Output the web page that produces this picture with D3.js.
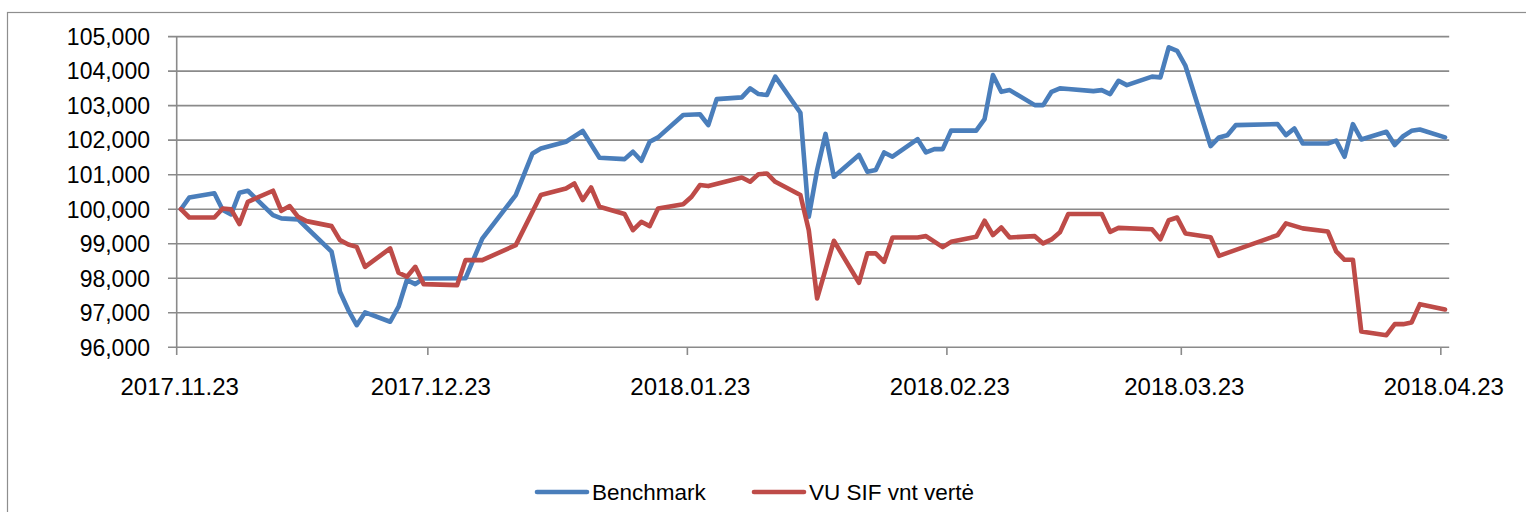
<!DOCTYPE html>
<html><head><meta charset="utf-8">
<script src="https://cdn.jsdelivr.net/npm/d3@7"></script>
<style>body{margin:0;background:#fff}svg{display:block}text{font-family:"Liberation Sans",Arial,sans-serif;fill:#000}</style>
</head><body><svg id="c" width="1526" height="512"></svg>
<script>
const benchmarkDates = ["2017-11-23","2017-11-24","2017-11-27","2017-11-28","2017-11-29","2017-11-30","2017-12-01","2017-12-04","2017-12-05","2017-12-07","2017-12-08","2017-12-11","2017-12-12","2017-12-13","2017-12-14","2017-12-15","2017-12-18","2017-12-19","2017-12-20","2017-12-21","2017-12-22","2017-12-27","2017-12-29","2018-01-02","2018-01-04","2018-01-05","2018-01-08","2018-01-10","2018-01-12","2018-01-15","2018-01-16","2018-01-17","2018-01-18","2018-01-19","2018-01-22","2018-01-24","2018-01-25","2018-01-26","2018-01-29","2018-01-30","2018-01-31","2018-02-01","2018-02-02","2018-02-05","2018-02-06","2018-02-07","2018-02-08","2018-02-09","2018-02-12","2018-02-13","2018-02-14","2018-02-15","2018-02-16","2018-02-19","2018-02-20","2018-02-21","2018-02-22","2018-02-23","2018-02-26","2018-02-27","2018-02-28","2018-03-01","2018-03-02","2018-03-05","2018-03-06","2018-03-07","2018-03-08","2018-03-09","2018-03-12","2018-03-13","2018-03-14","2018-03-15","2018-03-16","2018-03-19","2018-03-20","2018-03-21","2018-03-22","2018-03-23","2018-03-26","2018-03-27","2018-03-28","2018-03-29","2018-04-03","2018-04-04","2018-04-05","2018-04-06","2018-04-09","2018-04-10","2018-04-11","2018-04-12","2018-04-13","2018-04-16","2018-04-17","2018-04-18","2018-04-19","2018-04-20","2018-04-23"];
const benchmarkValues = [100000,100340,100460,99975,99850,100480,100535,99830,99735,99705,99470,98770,97610,97080,96640,97010,96740,97175,97950,97830,97995,98000,99150,100410,101615,101760,101955,102265,101490,101450,101665,101405,101955,102080,102730,102750,102435,103190,103240,103500,103335,103310,103840,102795,99780,101135,102180,100940,101570,101085,101135,101645,101520,102030,101645,101740,101740,102275,102275,102610,103885,103400,103450,103015,103015,103400,103500,103480,103420,103450,103335,103720,103595,103840,103820,104690,104590,104150,101830,102080,102145,102435,102465,102145,102340,101905,101905,101985,101520,102465,102020,102245,101860,102115,102270,102310,102080];

const fundDates = ["2017-11-23","2017-11-24","2017-11-27","2017-11-28","2017-11-29","2017-11-30","2017-12-01","2017-12-04","2017-12-05","2017-12-06","2017-12-07","2017-12-08","2017-12-11","2017-12-12","2017-12-13","2017-12-14","2017-12-15","2017-12-18","2017-12-19","2017-12-20","2017-12-21","2017-12-22","2017-12-26","2017-12-27","2017-12-29","2018-01-02","2018-01-05","2018-01-08","2018-01-09","2018-01-10","2018-01-11","2018-01-12","2018-01-15","2018-01-16","2018-01-17","2018-01-18","2018-01-19","2018-01-22","2018-01-23","2018-01-24","2018-01-25","2018-01-29","2018-01-30","2018-01-31","2018-02-01","2018-02-02","2018-02-05","2018-02-06","2018-02-07","2018-02-09","2018-02-12","2018-02-13","2018-02-14","2018-02-15","2018-02-16","2018-02-19","2018-02-20","2018-02-22","2018-02-23","2018-02-26","2018-02-27","2018-02-28","2018-03-01","2018-03-02","2018-03-05","2018-03-06","2018-03-07","2018-03-08","2018-03-09","2018-03-13","2018-03-14","2018-03-15","2018-03-19","2018-03-20","2018-03-21","2018-03-22","2018-03-23","2018-03-26","2018-03-27","2018-04-03","2018-04-04","2018-04-06","2018-04-09","2018-04-10","2018-04-11","2018-04-12","2018-04-13","2018-04-16","2018-04-17","2018-04-18","2018-04-19","2018-04-20","2018-04-23"];
const fundValues = [100000,99760,99760,100020,99995,99570,100215,100535,99955,100090,99780,99655,99510,99105,98980,98910,98330,98865,98160,98045,98330,97830,97800,98525,98525,98960,100410,100600,100745,100265,100630,100070,99860,99395,99635,99510,100020,100145,100360,100700,100670,100920,100795,101015,101035,100795,100410,99395,97415,99085,97870,98720,98720,98475,99180,99180,99220,98900,99055,99200,99665,99250,99470,99180,99220,99010,99125,99330,99860,99860,99345,99460,99420,99130,99680,99760,99295,99190,98650,99250,99590,99445,99355,98780,98535,98535,96460,96350,96670,96670,96720,97250,97095];

const seriesNames = ["Benchmark", "VU SIF vnt vertė"];
const seriesColors = ["#4A7EBB", "#BE4B48"];
const yTicks = [96000,97000,98000,99000,100000,101000,102000,103000,104000,105000];
const xTickDates = ["2017-11-23","2017-12-23","2018-01-23","2018-02-23","2018-03-23","2018-04-23"];
const xDomain = ["2017-11-23","2018-04-24"];

const parse = d3.utcParse("%Y-%m-%d");
const fmt = d3.utcFormat("%Y.%m.%d");
const svg = d3.select("#c");

const L = 176.7, R = 1449.2, T = 36.6, B = 347.3;
const x = d3.scaleUtc().domain(xDomain.map(parse)).range([L, R]);
const y = d3.scaleLinear().domain([96000, 105000]).range([B, T]);
const mid = d => d3.utcHour.offset(parse(d), 12);

// outer border
svg.append("rect").attr("x", 7.5).attr("y", 12.5).attr("width", 1540).attr("height", 520)
  .attr("fill", "none").attr("stroke", "#8e8e8e").attr("stroke-width", 1.2);

// gridlines + y ticks
const gridCol = "#8a8a8a";
svg.append("g").selectAll("line").data(yTicks).join("line")
  .attr("x1", 168).attr("x2", R).attr("y1", d => y(d)).attr("y2", d => y(d))
  .attr("stroke", gridCol).attr("stroke-width", 1.6);

// y axis line
svg.append("line").attr("x1", L).attr("x2", L).attr("y1", T).attr("y2", B)
  .attr("stroke", gridCol).attr("stroke-width", 1.6);

// x ticks
svg.append("g").selectAll("line").data(xTickDates).join("line")
  .attr("x1", d => x(parse(d))).attr("x2", d => x(parse(d))).attr("y1", B).attr("y2", 355)
  .attr("stroke", gridCol).attr("stroke-width", 1.6);

// y labels
const yf = d3.format(",");
svg.append("g").selectAll("text").data(yTicks).join("text")
  .attr("x", 150).attr("y", d => y(d) + 8.3).attr("text-anchor", "end")
  .attr("font-size", 23).text(d => yf(d));

// x labels
svg.append("g").selectAll("text").data(xTickDates).join("text")
  .attr("x", d => x(parse(d)) + 3).attr("y", 395).attr("text-anchor", "middle")
  .attr("font-size", 24).text(d => fmt(parse(d)));

// lines
const line = d3.line().x(d => x(mid(d[0]))).y(d => y(d[1]));
const series = [d3.zip(benchmarkDates, benchmarkValues), d3.zip(fundDates, fundValues)];
series.forEach((s, i) => {
  svg.append("path").datum(s).attr("d", line).attr("fill", "none")
    .attr("stroke", seriesColors[i]).attr("stroke-width", 4.6)
    .attr("stroke-linejoin", "round").attr("stroke-linecap", "round");
});

// legend
const legX = [537, 754];
seriesNames.forEach((n, i) => {
  svg.append("line").attr("x1", legX[i]).attr("x2", legX[i] + 50).attr("y1", 492).attr("y2", 492)
    .attr("stroke", seriesColors[i]).attr("stroke-width", 4.6).attr("stroke-linecap", "round");
  svg.append("text").attr("x", legX[i] + 55).attr("y", 500).attr("font-size", 22.5).text(n);
});
</script></body></html>
